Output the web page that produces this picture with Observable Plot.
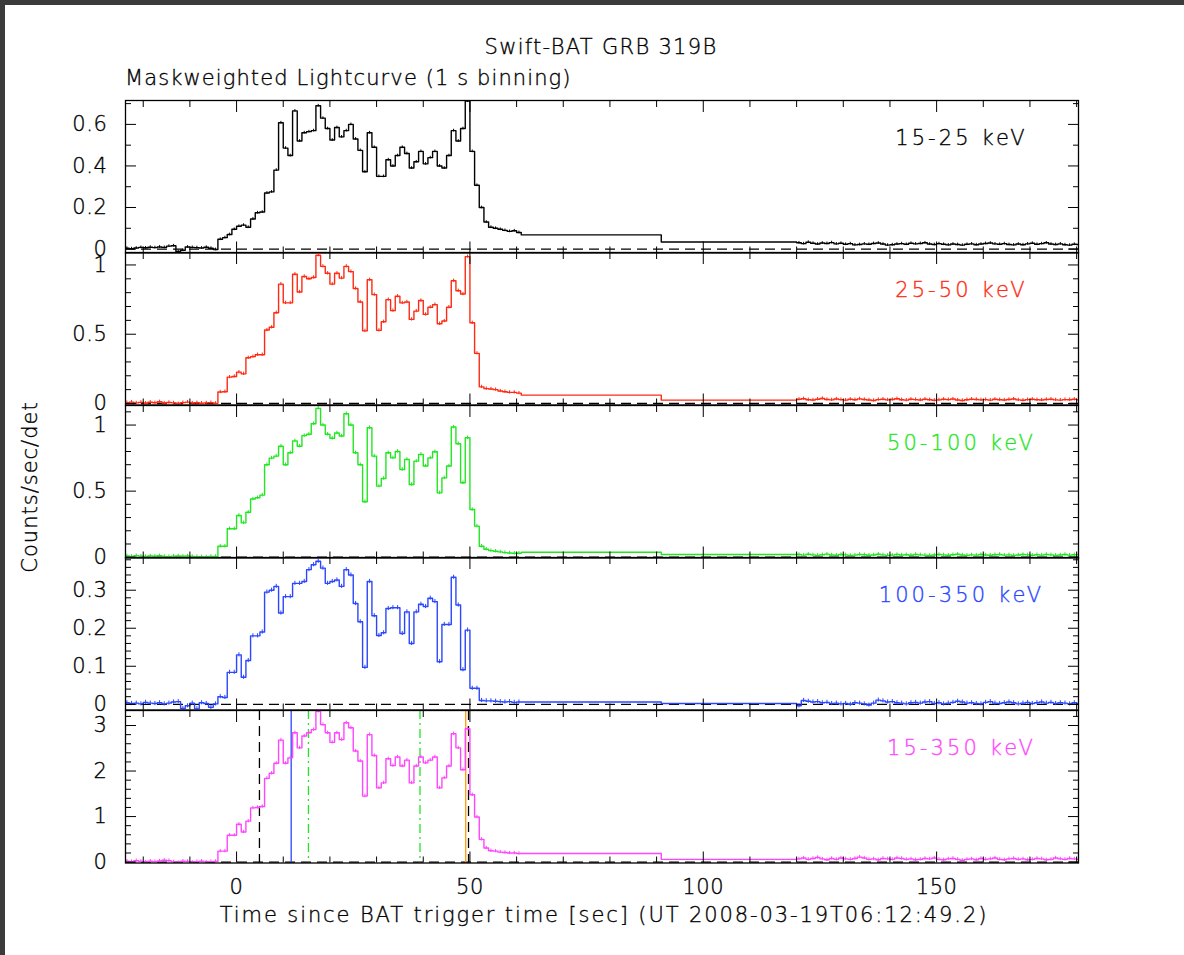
<!DOCTYPE html>
<html>
<head>
<meta charset="utf-8">
<script src="https://cdn.jsdelivr.net/npm/d3@7"></script>
<script src="https://cdn.jsdelivr.net/npm/@observablehq/plot@0.6"></script>
<style>
  html, body { margin:0; padding:0; width:1184px; height:955px; overflow:hidden; background:#3b3b3b; }
  #sheet { position:absolute; left:5px; top:5px; width:1179px; height:950px; background:#fff; }
  .lbl { position:absolute; font-family:"DejaVu Sans ExtraLight", "DejaVu Sans", sans-serif; font-weight:200; font-size:21px; line-height:21px; color:#000; white-space:nowrap; -webkit-text-stroke:0.35px #000; }
  .panel { position:absolute; left:0; }
</style>
</head>
<body>
<div id="sheet"></div>
<div id="root"></div>
<div class="lbl" id="title" style="left:601px; top:37px; transform:translateX(-50%); letter-spacing:1.3px;">Swift-BAT GRB 319B</div>
<div class="lbl" id="subtitle" style="left:125px; top:68px; letter-spacing:1.1px;">Maskweighted Lightcurve (1 s binning)</div>
<div class="lbl" id="xlabel" style="left:604px; top:905px; transform:translateX(-50%); letter-spacing:1.9px;">Time since BAT trigger time [sec] (UT 2008-03-19T06:12:49.2)</div>
<div class="lbl" id="ylabel" style="left:30px; top:487px; transform:translate(-50%,-50%) rotate(-90deg); letter-spacing:1px;">Counts/sec/det</div>
<script>
// ---------- DATA ----------
const bands = ["15-25 keV", "25-50 keV", "50-100 keV", "100-350 keV", "15-350 keV"];
const colors = ["#000000", "#ff2a12", "#22e622", "#2a46ff", "#ff46ff"];

// time grid (bin start times, seconds since trigger)
const firstBin = -24;          // 1-s bins from -24 to 60
const flatEdges = [61, 91, 120]; // wide bin 61-91, wide bin 91-120, then 1-s bins from 120

// pre-burst 1-s bins, t = -24 .. -5
const pre1 = [0.004,0.002,0.005,0.008,0.006,0.009,0.007,0.010,0.008,0.014,0.016,-0.012,-0.006,0.010,0.008,0.007,0.005,0.009,0.004,-0.002];
const pre2 = [0.006,0.010,0.004,0.008,0.002,0.009,0.005,0.012,0.003,0.007,0.004,-0.002,0.006,0.010,0.003,0.005,0.002,0.004,0.006,0.001];
const pre3 = [0.010,0.006,0.012,0.008,0.005,0.009,0.007,0.011,0.006,0.004,0.008,0.010,0.007,0.009,0.005,0.004,0.003,0.002,0.005,0.006];
const pre4 = [0.004,0.002,0.003,0.001,0.005,0.003,0.002,0.004,0.001,0.003,0.006,0.007,-0.011,-0.004,0.003,-0.012,0.004,0.002,-0.008,0.001];
const pre5 = [0.02,0.01,0.03,0.015,0.00,0.02,0.01,0.025,0.04,0.03,0.005,-0.01,0.02,0.015,-0.005,0.01,0.02,0.00,0.01,0.015];

// burst 1-s bins, t = -4 .. 60
const burst1 = [0.047,0.055,0.070,0.095,0.110,0.115,0.105,0.145,0.175,0.178,0.270,0.275,0.380,
  0.608,0.486,0.450,0.665,0.520,0.560,0.565,0.570,0.690,0.630,
  0.580,0.525,0.585,0.540,0.570,0.600,0.530,0.475,0.372,0.560,
  0.490,0.350,0.350,0.430,0.400,0.450,0.490,0.460,0.390,0.420,
  0.470,0.410,0.440,0.470,0.400,0.390,0.450,0.570,0.520,0.580,
  0.712,0.470,0.307,0.200,0.130,0.105,0.100,0.095,0.090,0.085,
  0.088,0.080];
const burst2 = [0.083,0.085,0.190,0.195,0.226,0.214,0.330,0.338,0.352,0.352,0.530,0.550,0.655,
  0.862,0.726,0.726,0.933,0.805,0.917,0.900,0.910,1.070,0.990,
  0.940,0.862,0.940,0.905,0.990,0.952,0.830,0.733,0.524,0.893,
  0.786,0.528,0.590,0.750,0.670,0.774,0.726,0.733,0.607,0.667,
  0.743,0.643,0.695,0.714,0.576,0.595,0.695,0.886,0.814,0.790,
  1.060,0.583,0.362,0.120,0.107,0.105,0.100,0.090,0.085,0.080,
  0.080,0.075];
const burst3 = [0.083,0.083,0.215,0.215,0.316,0.260,0.340,0.440,0.450,0.470,0.700,0.750,0.765,
  0.840,0.700,0.790,0.880,0.840,0.920,0.930,1.010,1.126,1.000,
  0.930,0.900,0.940,0.917,1.086,1.000,0.790,0.700,0.420,0.980,
  0.765,0.538,0.596,0.790,0.752,0.800,0.664,0.740,0.550,0.727,
  0.778,0.690,0.752,0.798,0.487,0.600,0.690,0.985,0.859,0.563,
  0.904,0.361,0.235,0.083,0.060,0.050,0.045,0.040,0.035,0.032,
  0.030,0.030];
const burst4 = [0.020,0.018,0.084,0.084,0.130,0.071,0.115,0.180,0.180,0.190,0.295,0.300,0.310,
  0.240,0.283,0.283,0.318,0.318,0.323,0.354,0.367,0.376,0.358,
  0.318,0.323,0.327,0.310,0.354,0.340,0.265,0.217,0.097,0.323,
  0.233,0.181,0.188,0.252,0.254,0.254,0.186,0.243,0.160,0.243,
  0.263,0.257,0.279,0.270,0.112,0.210,0.210,0.334,0.261,0.091,
  0.195,0.042,0.042,0.010,0.009,0.009,0.008,0.007,0.006,0.007,
  0.005,0.006];
const burst5 = [0.24,0.24,0.59,0.59,0.83,0.66,0.90,1.19,1.20,1.22,1.84,1.95,2.17,
  2.68,2.17,2.29,2.84,2.51,2.77,2.84,2.91,3.31,3.02,
  2.84,2.63,2.84,2.69,3.06,2.95,2.44,2.22,1.45,2.80,
  2.34,1.63,1.74,2.27,2.12,2.31,2.11,2.24,1.74,2.11,
  2.31,2.18,2.24,2.31,1.63,1.85,2.11,2.82,2.51,2.03,
  2.93,1.48,0.99,0.50,0.31,0.25,0.24,0.22,0.21,0.20,
  0.20,0.19];

// wide bins: [61-91, 91-120]
const flat1 = [0.068, 0.034];
const flat2 = [0.060, 0.024];
const flat3 = [0.038, 0.020];
const flat4 = [0.006, 0.002];
const flat5 = [0.19, 0.06];

// tail 1-s bins, t = 120 .. 180
const tail1 = [0.030,0.026,0.033,0.028,0.024,0.029,0.027,0.031,0.025,0.028,
  0.023,0.026,0.020,0.022,0.025,0.023,0.027,0.029,0.024,0.019,
  0.021,0.024,0.026,0.023,0.028,0.025,0.027,0.030,0.024,0.022,
  0.026,0.023,0.020,0.024,0.022,0.019,0.023,0.025,0.021,0.024,
  0.027,0.029,0.025,0.023,0.026,0.022,0.020,0.024,0.021,0.025,
  0.028,0.023,0.026,0.030,0.024,0.022,0.025,0.021,0.019,0.023,0.022];
const tail2 = [0.030,0.034,0.027,0.025,0.031,0.036,0.029,0.026,0.032,0.028,
  0.024,0.030,0.027,0.033,0.029,0.025,0.022,0.028,0.031,0.026,
  0.029,0.034,0.027,0.024,0.030,0.028,0.025,0.031,0.027,0.023,
  0.026,0.030,0.028,0.032,0.025,0.022,0.027,0.031,0.029,0.026,
  0.028,0.024,0.030,0.027,0.025,0.029,0.032,0.026,0.023,0.028,
  0.030,0.027,0.025,0.029,0.031,0.026,0.024,0.028,0.027,0.030,0.026];
const tail3 = [0.020,0.016,0.022,0.018,0.014,0.019,0.023,0.017,0.015,0.020,
  0.018,0.013,0.016,0.021,0.019,0.015,0.017,0.022,0.018,0.014,
  0.016,0.020,0.017,0.019,0.015,0.021,0.018,0.016,0.013,0.017,
  0.020,0.018,0.015,0.019,0.022,0.017,0.014,0.018,0.016,0.020,
  0.017,0.015,0.019,0.021,0.016,0.018,0.014,0.017,0.020,0.018,
  0.015,0.019,0.016,0.021,0.018,0.014,0.017,0.020,0.016,0.019,0.021];
const tail4 = [-0.004,0.010,0.008,0.006,0.007,0.004,0.005,0.002,0.003,0.001,
  0.002,0.000,0.004,0.003,0.001,-0.002,0.003,0.011,0.009,0.006,
  0.007,0.004,0.003,0.001,0.004,0.005,0.003,0.006,0.007,0.002,
  0.004,0.001,0.003,0.005,0.008,0.006,0.003,0.004,0.002,0.001,
  0.005,0.007,0.003,0.002,0.004,0.006,0.004,0.001,0.003,0.005,
  0.002,0.004,0.006,0.003,0.005,0.002,0.004,0.003,0.001,0.004,0.002];
const tail5 = [0.07,0.09,0.06,0.08,0.10,0.07,0.05,0.08,0.06,0.09,
  0.07,0.06,0.08,0.11,0.09,0.06,0.07,0.05,0.08,0.07,
  0.06,0.09,0.08,0.06,0.07,0.05,0.06,0.08,0.07,0.09,
  0.06,0.05,0.07,0.08,0.06,0.04,0.06,0.07,0.05,0.08,
  0.06,0.07,0.09,0.06,0.05,0.07,0.08,0.06,0.07,0.05,
  0.06,0.08,0.07,0.05,0.06,0.09,0.07,0.06,0.08,0.07,0.06];

// error-bar half heights per band
const errorBars = [0.0065, 0.012, 0.013, 0.0055, 0.037];

// vertical markers in the 15-350 keV panel
const markerTimes = [4.9, 11.7, 15.4, 39.3, 49.1, 49.7];
const markerColors = ["#000000", "#2a46ff", "#22e622", "#22e622", "#ff9a00", "#000000"];
const markerDashes = ["10,6", null, "9,4,2,4", "9,4,2,4", null, "10,6"];

// axes
const xDomain = [-23.8, 180.4];
const xMajor = [0, 50, 100, 150];
const xTickLabels = ["0", "50", "100", "150"];
const yDomains = [[-0.019, 0.715], [-0.011, 1.09], [-0.006, 1.148], [-0.015, 0.386], [-0.02, 3.33]];
const yMajor = [[0, 0.2, 0.4, 0.6], [0, 0.5, 1], [0, 0.5, 1], [0, 0.1, 0.2, 0.3], [0, 1, 2, 3]];
const yTickLabels = [["0", "0.2", "0.4", "0.6"], ["0", "0.5", "1"], ["0", "0.5", "1"], ["0", "0.1", "0.2", "0.3"], ["0", "1", "2", "3"]];
const yMinorStep = [0.1, 0.1, 0.1, 0.02, 0.2];
const xMinorStep = 10;

// ---------- BUILD ----------
const pres = [pre1, pre2, pre3, pre4, pre5];
const bursts = [burst1, burst2, burst3, burst4, burst5];
const flats = [flat1, flat2, flat3, flat4, flat5];
const tails = [tail1, tail2, tail3, tail4, tail5];
const FONT = "'DejaVu Sans ExtraLight', 'DejaVu Sans', sans-serif";

function rowsFor(i) {
  const fine = pres[i].concat(bursts[i]);
  const rows = [];
  fine.forEach((v, k) => rows.push({t: firstBin + k, v, fine: true}));
  rows.push({t: flatEdges[0], v: flats[i][0], fine: false});
  rows.push({t: flatEdges[1], v: flats[i][1], fine: false});
  const tl = tails[i];
  tl.forEach((v, k) => rows.push({t: flatEdges[2] + k, v, fine: true}));
  rows.push({t: flatEdges[2] + tl.length, v: tl[tl.length - 1], fine: false});
  return rows;
}

function minorTicks(domain, step, majors) {
  const out = [];
  const n0 = Math.ceil(domain[0] / step), n1 = Math.floor(domain[1] / step);
  for (let n = n0; n <= n1; n++) {
    const v = +(n * step).toFixed(6);
    if (!majors.some(m => Math.abs(m - v) < 1e-9)) out.push(v);
  }
  return out;
}

const root = document.getElementById("root");
const panelTops = [99.5, 252, 404.5, 557, 709.5];
const panelH = 152.5;
const M = 12;
const MAJ = -11, MIN = -6;
const xMinor = minorTicks(xDomain, xMinorStep, xMajor);

for (let i = 0; i < 5; i++) {
  const last = i === 4;
  const mb = last ? 60 : M;
  const rows = rowsFor(i);
  const errs = rows.filter(r => r.fine).map(r => ({c: r.t + 0.5, lo: r.v - errorBars[i], hi: r.v + errorBars[i]}));
  const yMinor = minorTicks(yDomains[i], yMinorStep[i], yMajor[i]);
  const marks = [
    Plot.ruleY([0], {stroke: "#000", strokeWidth: 1.3, strokeDasharray: "10,6"})
  ];
  if (last) {
    markerTimes.forEach((t, k) => {
      marks.push(Plot.ruleX([t], {stroke: markerColors[k], strokeWidth: 1.3, strokeDasharray: markerDashes[k]}));
    });
  }
  marks.push(
    Plot.ruleX(errs, {x: "c", y1: "lo", y2: "hi", stroke: colors[i], strokeWidth: 1, clip: true}),
    Plot.line(rows, {x: "t", y: "v", curve: "step-after", stroke: colors[i], strokeWidth: 1.4, clip: true}),
    Plot.text([bands[i]], {text: d => d, frameAnchor: "top-right", dx: -117, dy: 38, fill: colors[i], stroke: colors[i], strokeWidth: 0.35, textAnchor: "middle", lineAnchor: "middle", fontSize: 21, fontWeight: 200, fontFamily: FONT}),
    Plot.frame({stroke: "#000", strokeWidth: 1.3}),
    Plot.axisY({anchor: "left", ticks: yMajor[i], tickSize: MAJ, tickPadding: 29, label: null,
      tickFormat: d => yTickLabels[i][yMajor[i].indexOf(d)], fontSize: 21}),
    Plot.axisY({anchor: "left", ticks: yMinor, tickSize: MIN, text: null, label: null}),
    Plot.axisY({anchor: "right", ticks: yMajor[i], tickSize: MAJ, text: null, label: null}),
    Plot.axisY({anchor: "right", ticks: yMinor, tickSize: MIN, text: null, label: null}),
    Plot.axisX({anchor: "top", ticks: xMajor, tickSize: MAJ, text: null, label: null}),
    Plot.axisX({anchor: "top", ticks: xMinor, tickSize: MIN, text: null, label: null}),
    last
      ? Plot.axisX({anchor: "bottom", ticks: xMajor, tickSize: MAJ, tickPadding: 27, label: null,
          tickFormat: d => xTickLabels[xMajor.indexOf(d)], fontSize: 21})
      : Plot.axisX({anchor: "bottom", ticks: xMajor, tickSize: MAJ, text: null, label: null}),
    Plot.axisX({anchor: "bottom", ticks: xMinor, tickSize: MIN, text: null, label: null})
  );
  const svg = Plot.plot({
    width: 1184,
    height: panelH + M + mb,
    marginLeft: 125, marginRight: 106, marginTop: M, marginBottom: mb,
    x: {domain: xDomain},
    y: {domain: yDomains[i]},
    style: {background: "transparent", overflow: "visible", fontFamily: FONT, fontWeight: 200, fontSize: "21px", color: "#000", letterSpacing: "0.6px"},
    marks
  });
  // darken thin axis labels slightly, like the reference's stroked glyphs
  svg.querySelectorAll("g[aria-label='y-axis tick label'] text, g[aria-label='x-axis tick label'] text").forEach(t => {
    t.setAttribute("stroke", "#000");
    t.setAttribute("stroke-width", "0.35");
  });
  // wider spacing for the band label, as in the reference
  svg.querySelectorAll("g[aria-label='text'] text").forEach(t => {
    t.setAttribute("letter-spacing", "3.1");
    t.style.letterSpacing = "3.1px";
  });
  const wrap = document.createElement("div");
  wrap.className = "panel";
  wrap.style.top = (panelTops[i] - M) + "px";
  wrap.appendChild(svg);
  root.appendChild(wrap);
}
</script>
</body>
</html>
